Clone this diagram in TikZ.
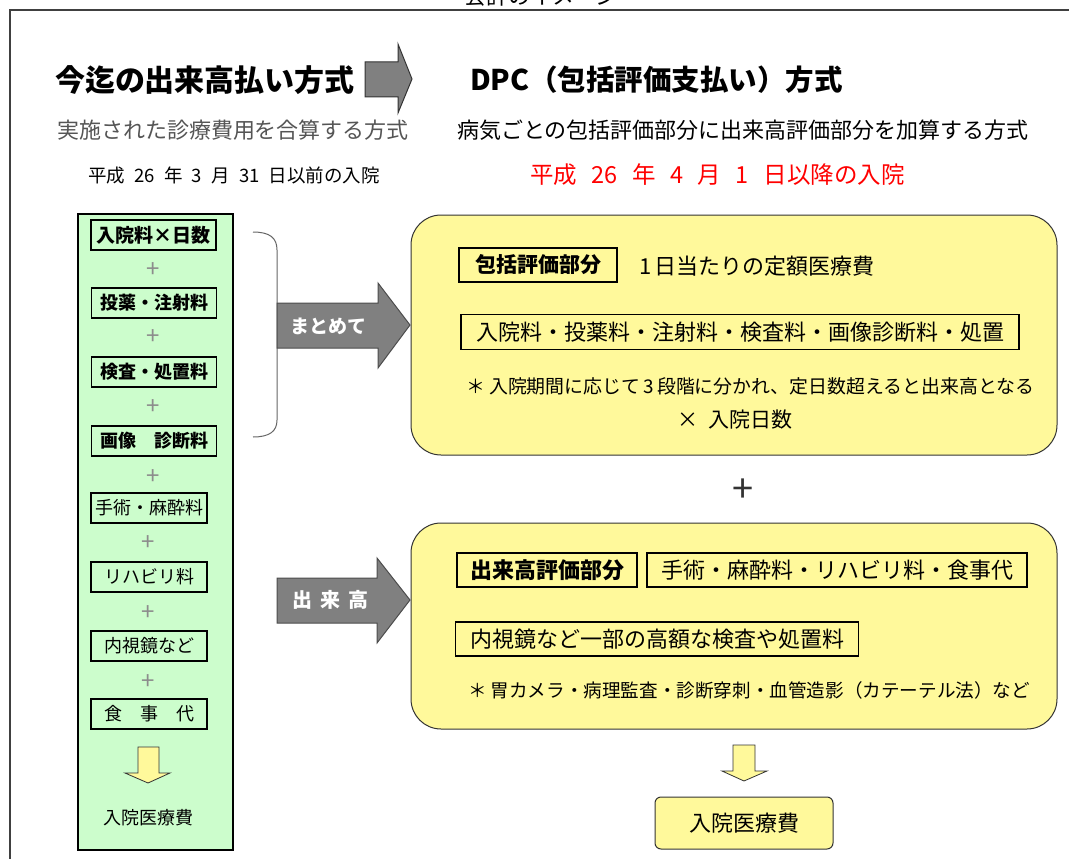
\documentclass[tikz,border=0pt]{standalone}
\usepackage{fontspec}
\setmainfont{Noto Sans CJK JP}
\definecolor{colgreen}{HTML}{CCFDCC}
\definecolor{boxyellow}{HTML}{FFF99B}
\definecolor{arrgray}{HTML}{808080}
\definecolor{subgray}{HTML}{555555}
\newcommand{\fs}[1]{\fontsize{#1}{#1}\selectfont}
\tikzset{
  txt/.style={inner sep=0pt, outer sep=0pt},
  colbox/.style={draw=black, line width=1.3pt, minimum width=125pt, minimum height=30pt, inner sep=0pt, font=\fs{18}\bfseries},
  colboxb/.style={draw=black, line width=1.3pt, minimum width=116pt, minimum height=30pt, inner sep=0pt, font=\fs{18}},
  plus/.style={inner sep=0pt, text=black!45, font=\fs{24}},
  ybox/.style={draw=black!80, line width=1pt, fill=boxyellow, rounded corners=30pt},
  inbox/.style={draw=black, line width=1.3pt, inner sep=0pt, minimum height=34pt, font=\fs{22}},
  bigarrow/.style={draw=black!70, line width=1pt, fill=arrgray},
  downarrow/.style={draw=black!80, line width=0.8pt, fill=boxyellow},
}
\begin{document}
\begin{tikzpicture}[x=1pt,y=-1pt]
\useasboundingbox (0,0) rectangle (1069,859);
\clip (0,0) rectangle (1069,859);
% frame and clipped heading
\draw[line width=2pt, black!75] (10,870) -- (10,10) -- (1075,10);
\node[txt, anchor=base, font=\fs{22}] (head) at (541,5) {会計のイメージ};

% titles
\node[txt, anchor=west, font=\fs{30}\bfseries] (t1) at (55,80) {今迄の出来高払い方式};
\draw[line width=1pt, black!80, fill=arrgray] (365,62) -- (398,62) -- (398,44) -- (412,79) -- (398,113) -- (398,97) -- (365,97) -- cycle;
\node[txt, anchor=west, font=\fs{28.5}\bfseries] (t2) at (470,80) {DPC（包括評価支払い）方式};
\node[txt, anchor=west, font=\fs{22}, text=subgray] (s1) at (57,130) {実施された診療費用を合算する方式};
\node[txt, anchor=west, font=\fs{22}] (s2) at (457,130) {病気ごとの包括評価部分に出来高評価部分を加算する方式};
\node[txt, anchor=west, font=\fs{18.5}] (d1) at (88,175) {平成\enspace 26\enspace 年\enspace 3\enspace 月\enspace 31\enspace 日以前の入院};
\node[txt, anchor=west, font=\fs{23.5}, text=red] (d2) at (530,175) {平成\hspace{0.62em}26\hspace{0.62em}年\hspace{0.62em}4\hspace{0.62em}月\hspace{0.62em}1\hspace{0.62em}日以降の入院};

% left column
\draw[line width=1.3pt, fill=colgreen] (78,214) rectangle (233,850);
\node[colbox, font=\fs{19}\bfseries] (c1) at (153.5,235) {入院料×日数};
\node[plus] (p1) at (153,270) {+};
\node[colbox] (c2) at (154,303) {投薬・注射料};
\node[plus] (p2) at (153,337) {+};
\node[colbox] (c3) at (154,372) {検査・処置料};
\node[plus] (p3) at (153,407) {+};
\node[colbox] (c4) at (154,441) {画像　診断料};
\node[plus] (p4) at (153,477) {+};
\node[colboxb] (c5) at (149,508) {手術・麻酔料};
\node[plus] (p5) at (148,543) {+};
\node[colboxb] (c6) at (149,577) {リハビリ料};
\node[plus] (p6) at (148,613) {+};
\node[colboxb] (c7) at (149,646) {内視鏡など};
\node[plus] (p7) at (148,682) {+};
\node[colboxb] (c8) at (149,714) {食　事　代};
\draw[downarrow] (138,747) -- (159,747) -- (159,773) -- (170,773) -- (148,783) -- (125,773) -- (138,773) -- cycle;
\node[txt, font=\fs{18}] (c9) at (148,818) {入院医療費};

% brace
\draw[line width=1pt, black!60] (253,232) .. controls (270,232) and (277,238) .. (277,250) -- (277,420) .. controls (277,431) and (270,437) .. (253,437);

% arrows
\draw[bigarrow] (277,303) -- (378,303) -- (378,283) -- (410,325) -- (378,368) -- (378,348) -- (277,348) -- cycle;
\node[txt, text=white, font=\fs{19}\bfseries] (a1) at (328,326) {まとめて};
\draw[bigarrow] (277,578) -- (377,578) -- (377,558) -- (410,600) -- (377,643) -- (377,623) -- (277,623) -- cycle;
\node[txt, text=white, font=\fs{20}\bfseries] (a2) at (330,600) {出\hspace{8pt}来\hspace{8pt}高};

% yellow box 1
\draw[ybox] (411,215) rectangle (1057,455);
\node[inbox, minimum width=158pt, font=\fs{21}\bfseries] (h1) at (538,265) {包括評価部分};
\node[txt, anchor=west, font=\fs{22}] (h1t) at (639,266) {1\,日当たりの定額医療費};
\node[inbox, minimum width=558pt, minimum height=35pt] (h1b) at (740,332) {入院料・投薬料・注射料・検査料・画像診断料・処置};
\node[txt, anchor=west, font=\fs{18.9}] (h1n) at (466,386) {＊ 入院期間に応じて\,3\,段階に分かれ、定日数超えると出来高となる};
\node[txt, anchor=west, font=\fs{21}] (h1x) at (677,420) {×\enspace 入院日数};

% plus
\node[txt, font=\fs{38}, text=black!80] (bp) at (743,491) {+};

% yellow box 2
\draw[ybox] (411,523) rectangle (1057,729);
\node[inbox, minimum width=180pt, font=\fs{22}\bfseries] (h2) at (547,570) {出来高評価部分};
\node[inbox, minimum width=380pt] (h2t) at (837,570) {手術・麻酔料・リハビリ料・食事代};
\node[inbox, minimum width=403pt] (h2b) at (657,639) {内視鏡など一部の高額な検査や処置料};
\node[txt, anchor=west, font=\fs{18.6}] (h2n) at (468,690) {＊ 胃カメラ・病理監査・診断穿刺・血管造影（カテーテル法）など};

% bottom arrow and result
\draw[downarrow] (733,745) -- (755,745) -- (755,771) -- (767,771) -- (744,781) -- (722,771) -- (733,771) -- cycle;
\node[draw=black!80, line width=1pt, fill=boxyellow, rounded corners=6pt, minimum width=178pt, minimum height=52pt, inner sep=0pt, font=\fs{22}] (res) at (744,823) {入院医療費};
\end{tikzpicture}
\end{document}
